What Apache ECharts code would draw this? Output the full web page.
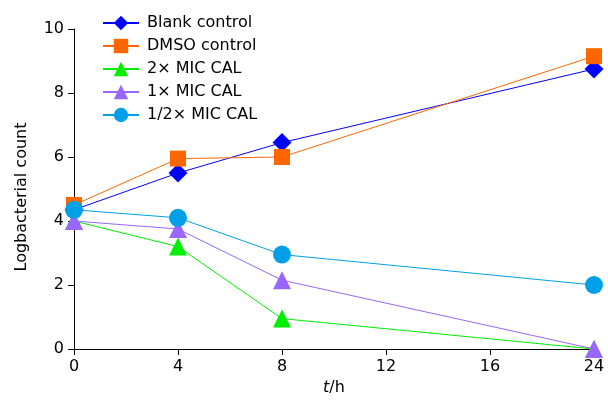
<!DOCTYPE html>
<html>
<head>
<meta charset="utf-8">
<script src="https://cdn.jsdelivr.net/npm/echarts@6/dist/echarts.min.js"></script>
<style>
    html, body { margin: 0; padding: 0; background: #fff; }
    #chart { width: 608px; height: 403px; }
</style>
</head>
<body>
<div id="chart"></div>
<script>
    // time points (h) — 12 and 16 only carry ticks
    var hours = ['0', '4', '8', '12', '16', '24'];
    var blankControl = [4.35, 5.5, 6.45, null, null, 8.75];
    var dmsoControl = [4.5, 5.95, 6.0, null, null, 9.15];
    var mic2x = [4.0, 3.2, 0.95, null, null, 0.0];
    var mic1x = [4.0, 3.75, 2.15, null, null, 0.0];
    var micHalf = [4.35, 4.1, 2.95, null, null, 2.0];
    var yTicks = [0, 2, 4, 6, 8, 10];

    var font = 'DejaVu Sans';
    var myChart = echarts.init(document.getElementById('chart'));

    function mkSeries(name, data, color, symbol, size) {
        return {
            name: name,
            type: 'line',
            data: data,
            connectNulls: true,
            symbol: symbol,
            symbolSize: size,
            lineStyle: {color: color, width: 1},
            itemStyle: {color: color},
            emphasis: {disabled: true}
        };
    }

    var option = {
        animation: false,
        textStyle: {fontFamily: font},
        legend: {
            left: 97,
            top: 10,
            orient: 'vertical',
            itemWidth: 36,
            itemHeight: 18,
            itemGap: 7,
            textStyle: {fontFamily: font, fontSize: 16, color: '#000', padding: [0, 0, 0, 3]},
            data: ['Blank control', 'DMSO control', '2× MIC CAL', '1× MIC CAL', '1/2× MIC CAL']
        },
        grid: {left: 74, right: 14, top: 29, bottom: 54},
        xAxis: {
            type: 'category',
            data: hours,
            boundaryGap: false,
            name: '{i|t}/h',
            nameLocation: 'middle',
            nameGap: 28,
            nameTextStyle: {
                fontFamily: font, fontSize: 16, color: '#000',
                rich: {i: {fontStyle: 'italic', fontFamily: font, fontSize: 16, color: '#000'}}
            },
            axisLine: {lineStyle: {color: '#000', width: 1}},
            axisTick: {alignWithLabel: true, length: 6, lineStyle: {color: '#000'}},
            axisLabel: {fontFamily: font, fontSize: 16, color: '#000', margin: 10},
            splitLine: {show: false}
        },
        yAxis: {
            type: 'value',
            min: yTicks[0],
            max: yTicks[yTicks.length - 1],
            interval: 2,
            name: 'Logbacterial count',
            nameLocation: 'middle',
            nameGap: 44,
            nameTextStyle: {fontFamily: font, fontSize: 16, color: '#000', padding: [0, 16, 0, 0]},
            axisLine: {show: true, lineStyle: {color: '#000', width: 1}},
            axisTick: {show: true, length: 6, lineStyle: {color: '#000'}},
            axisLabel: {fontFamily: font, fontSize: 16, color: '#000', margin: 10},
            splitLine: {show: false}
        },
        series: [
            mkSeries('Blank control', blankControl, '#0000ff', 'diamond', 19),
            mkSeries('DMSO control', dmsoControl, '#ff6600', 'rect', 16),
            mkSeries('2× MIC CAL', mic2x, '#00ee00', 'triangle', 18),
            mkSeries('1× MIC CAL', mic1x, '#9966ff', 'triangle', 18),
            mkSeries('1/2× MIC CAL', micHalf, '#00a0e9', 'circle', 18)
        ]
    };

    myChart.setOption(option);
</script>
</body>
</html>
